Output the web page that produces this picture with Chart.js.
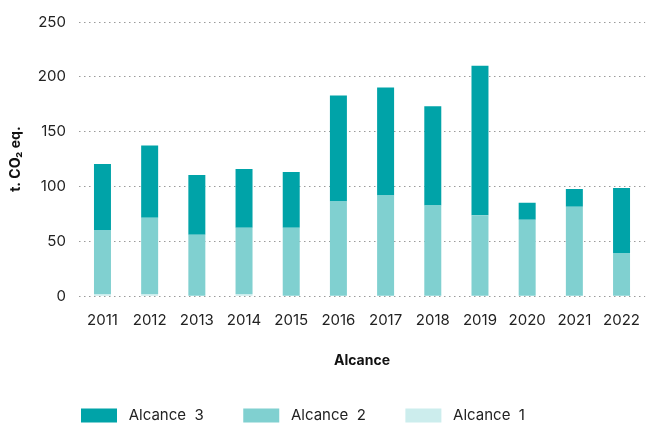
<!DOCTYPE html>
<html>
<head>
<meta charset="utf-8">
<script src="https://cdn.jsdelivr.net/npm/chart.js@4.4.0/dist/chart.umd.min.js"></script>
<style>
  html, body { margin: 0; padding: 0; background: #fff; overflow: hidden; }
  #wrap { width: 647px; height: 423px; overflow: hidden; position: relative; }
  #box { width: 655px; height: 423px; position: absolute; left: 0; top: 0; }
</style>
</head>
<body>
<div id="wrap"><div id="box"><canvas id="c"></canvas></div></div>
<script>
const categories = ["2011","2012","2013","2014","2015","2016","2017","2018","2019","2020","2021","2022"];
const alcance1 = [2, 2, 0, 2, 0, 0, 0, 0, 0, 0, 0, 0];
const alcance2 = [58, 69.5, 56, 60.5, 62.5, 86.4, 91.9, 82.8, 73.8, 69.7, 81.5, 39];
const alcance3 = [60.5, 66, 54.5, 53.5, 50.7, 96.7, 98.4, 90.4, 136.4, 15.4, 16.3, 59.7];
const yTicks = [0, 50, 100, 150, 200, 250];
const seriesNames = ['Alcance  1', 'Alcance  2', 'Alcance  3'];

const FONT = "Inter, 'Noto Sans', sans-serif";

const legendPlace = {
  id: 'legendPlace',
  afterLayout(chart) {
    const lg = chart.legend;
    if (!lg) return;
    const w = lg.width, h = lg.height;
    lg.left = 71; lg.right = lg.left + w;
    lg.top = 398; lg.bottom = lg.top + h;
  }
};

new Chart(document.getElementById('c'), {
  type: 'bar',
  data: {
    labels: categories,
    datasets: [
      { label: ' ' + seriesNames[0] + '       ', data: alcance1, backgroundColor: '#CCEDED' },
      { label: ' ' + seriesNames[1] + '       ', data: alcance2, backgroundColor: '#80D0D0' },
      { label: ' ' + seriesNames[2] + '       ', data: alcance3, backgroundColor: '#00A3A8' }
    ]
  },
  plugins: [legendPlace],
  options: {
    responsive: true,
    maintainAspectRatio: false,
    animation: false,
    datasets: { bar: { barPercentage: 0.36, categoryPercentage: 1.0 } },
    layout: { padding: { top: 6, left: 0, right: 0, bottom: 0 } },
    scales: {
      x: {
        stacked: true,
        grid: { display: false, drawTicks: false },
        border: { display: false },
        ticks: { color: '#222', font: { family: FONT, size: 15 }, padding: 15, maxRotation: 0, autoSkip: false },
        title: { display: true, text: 'Alcance', color: '#111', font: { family: FONT, size: 14, weight: 'bold' }, padding: { top: 8, bottom: 19 } }
      },
      y: {
        stacked: true,
        min: 0, max: 250,
        afterBuildTicks: (axis) => { axis.ticks = yTicks.map(v => ({ value: v })); },
        grid: { color: '#9a9a9a', lineWidth: 1, drawTicks: false },
        border: { display: false, dash: [1.5, 3.5] },
        ticks: { color: '#222', font: { family: FONT, size: 15 }, padding: 13 },
        title: { display: true, text: 't. CO₂ eq.', color: '#111', font: { family: FONT, size: 14, weight: 'bold' }, padding: { top: 7, bottom: 1 } }
      }
    },
    plugins: {
      legend: {
        position: 'bottom',
        align: 'start',
        reverse: true,
        labels: {
          boxWidth: 36, boxHeight: 14, padding: 10,
          color: '#222', font: { family: FONT, size: 15 }
        }
      },
      tooltip: { enabled: false }
    }
  }
});
</script>
</body>
</html>
